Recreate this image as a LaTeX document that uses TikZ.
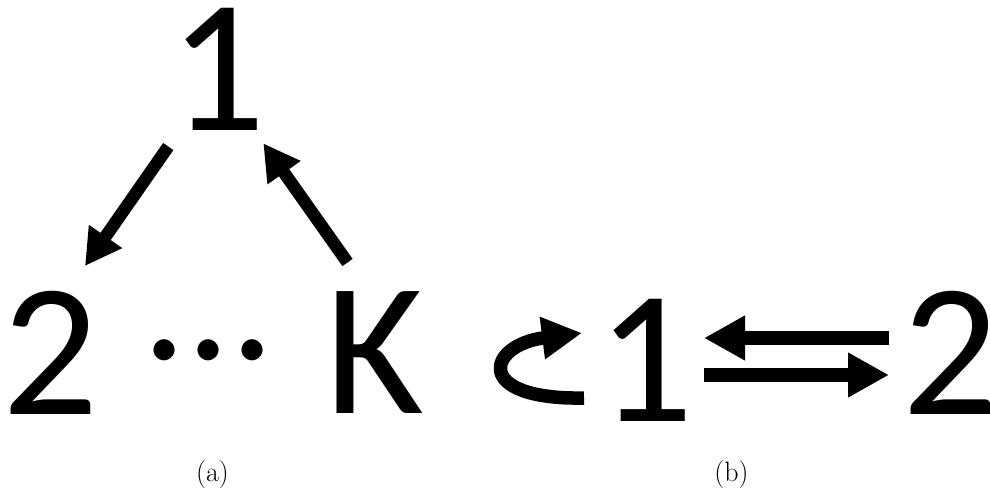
\documentclass[tikz,border=0pt]{standalone}
\usepackage{fontspec}
\newfontfamily\calib{Carlito}
\usetikzlibrary{arrows.meta}
\begin{document}
\begin{tikzpicture}[x=1pt,y=-1pt,
  big/.style={font=\calib\fontsize{190}{190}\selectfont, inner sep=0pt, anchor=base},
  lab/.style={font=\fontsize{28}{28}\selectfont, inner sep=0pt, anchor=base},
  arra/.style={line width=12.5pt, -{Triangle[length=36pt,width=38pt]}},
  arrb/.style={line width=14pt, -{Triangle[length=41pt,width=42pt]}}]
\useasboundingbox (0,0) rectangle (990,492);
% (a)
\node[big] (t1) at (218,131) {1};
\node[big] (l2) at (51,414) {2};
\node[big, font=\calib\fontsize{175}{175}\selectfont] (dots) at (209,359) {...};
\node[big] (K) at (375,413) {K};
\coordinate (a1s) at (168.3,146.5);
\coordinate (a1e) at (85,266);
\coordinate (a2s) at (347.5,262.5);
\coordinate (a2e) at (263.3,143.3);
\draw[arra] (a1s) -- (a1e);
\draw[arra] (a2s) -- (a2e);
\node[lab] (la) at (212.5,481) {(a)};
% (b)
\node[big] (r1) at (646,421) {1};
\node[big] (r2) at (951,414) {2};
\coordinate (btopS) at (889,338);
\coordinate (btopE) at (704,338);
\coordinate (bbotS) at (704,375);
\coordinate (bbotE) at (889,375);
\draw[arrb] (btopS) -- (btopE);
\draw[arrb] (bbotS) -- (bbotE);
\coordinate (loopS) at (584,398);
\coordinate (loopE) at (582,333);
\draw[arrb, line width=13.5pt, -{Triangle[length=40pt,width=40pt]}] (loopS) .. controls (472,400) and (487,345) .. (loopE);
\node[lab] (lb) at (731.5,481) {(b)};
\end{tikzpicture}
\end{document}
